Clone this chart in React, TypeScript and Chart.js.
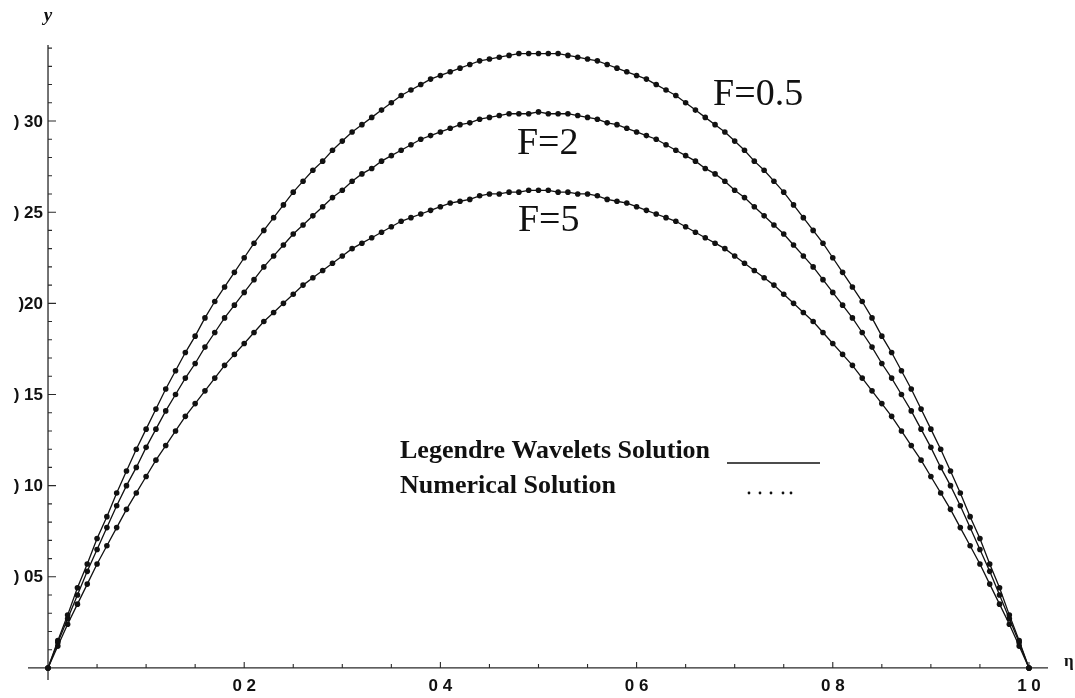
import React, { useEffect, useRef } from "react";
import { Chart, registerables } from "chart.js";

Chart.register(...registerables);

// η grid (0 … 1, step 0.01)
const ETA = [
  0, 0.01, 0.02, 0.03, 0.04, 0.05, 0.06, 0.07, 0.08, 0.09,
  0.1, 0.11, 0.12, 0.13, 0.14, 0.15, 0.16, 0.17, 0.18, 0.19,
  0.2, 0.21, 0.22, 0.23, 0.24, 0.25, 0.26, 0.27, 0.28, 0.29,
  0.3, 0.31, 0.32, 0.33, 0.34, 0.35, 0.36, 0.37, 0.38, 0.39,
  0.4, 0.41, 0.42, 0.43, 0.44, 0.45, 0.46, 0.47, 0.48, 0.49,
  0.5, 0.51, 0.52, 0.53, 0.54, 0.55, 0.56, 0.57, 0.58, 0.59,
  0.6, 0.61, 0.62, 0.63, 0.64, 0.65, 0.66, 0.67, 0.68, 0.69,
  0.7, 0.71, 0.72, 0.73, 0.74, 0.75, 0.76, 0.77, 0.78, 0.79,
  0.8, 0.81, 0.82, 0.83, 0.84, 0.85, 0.86, 0.87, 0.88, 0.89,
  0.9, 0.91, 0.92, 0.93, 0.94, 0.95, 0.96, 0.97, 0.98, 0.99,
  1.0,
];

// y(η) for F = 0.5
const Y_F05 = [
  0, 0.015, 0.029, 0.044, 0.057, 0.071, 0.083, 0.096, 0.108, 0.12, 0.131,
  0.142, 0.153, 0.163, 0.173, 0.182, 0.192, 0.201, 0.209, 0.217, 0.225,
  0.233, 0.24, 0.247, 0.254, 0.261, 0.267, 0.273, 0.278, 0.284, 0.289,
  0.294, 0.298, 0.302, 0.306, 0.31, 0.314, 0.317, 0.32, 0.323, 0.325,
  0.327, 0.329, 0.331, 0.333, 0.334, 0.335, 0.336, 0.337, 0.337, 0.337,
  0.337, 0.337, 0.336, 0.335, 0.334, 0.333, 0.331, 0.329, 0.327, 0.325,
  0.323, 0.32, 0.317, 0.314, 0.31, 0.306, 0.302, 0.298, 0.294, 0.289,
  0.284, 0.278, 0.273, 0.267, 0.261, 0.254, 0.247, 0.24, 0.233, 0.225,
  0.217, 0.209, 0.201, 0.192, 0.182, 0.173, 0.163, 0.153, 0.142, 0.131,
  0.12, 0.108, 0.096, 0.083, 0.071, 0.057, 0.044, 0.029, 0.015, 0,
];

// y(η) for F = 2
const Y_F2 = [
  0, 0.014, 0.027, 0.04, 0.053, 0.065, 0.077, 0.089, 0.1, 0.11, 0.121,
  0.131, 0.141, 0.15, 0.159, 0.167, 0.176, 0.184, 0.192, 0.199, 0.206,
  0.213, 0.22, 0.226, 0.232, 0.238, 0.243, 0.248, 0.253, 0.258, 0.262,
  0.267, 0.271, 0.274, 0.278, 0.281, 0.284, 0.287, 0.29, 0.292, 0.294,
  0.296, 0.298, 0.299, 0.301, 0.302, 0.303, 0.304, 0.304, 0.304, 0.305,
  0.304, 0.304, 0.304, 0.303, 0.302, 0.301, 0.299, 0.298, 0.296, 0.294,
  0.292, 0.29, 0.287, 0.284, 0.281, 0.278, 0.274, 0.271, 0.267, 0.262,
  0.258, 0.253, 0.248, 0.243, 0.238, 0.232, 0.226, 0.22, 0.213, 0.206,
  0.199, 0.192, 0.184, 0.176, 0.167, 0.159, 0.15, 0.141, 0.131, 0.121,
  0.11, 0.1, 0.089, 0.077, 0.065, 0.053, 0.04, 0.027, 0.014, 0,
];

// y(η) for F = 5
const Y_F5 = [
  0, 0.012, 0.024, 0.035, 0.046, 0.057, 0.067, 0.077, 0.087, 0.096, 0.105,
  0.114, 0.122, 0.13, 0.138, 0.145, 0.152, 0.159, 0.166, 0.172, 0.178,
  0.184, 0.19, 0.195, 0.2, 0.205, 0.21, 0.214, 0.218, 0.222, 0.226,
  0.23, 0.233, 0.236, 0.239, 0.242, 0.245, 0.247, 0.249, 0.251, 0.253,
  0.255, 0.256, 0.257, 0.259, 0.26, 0.26, 0.261, 0.261, 0.262, 0.262,
  0.262, 0.261, 0.261, 0.26, 0.26, 0.259, 0.257, 0.256, 0.255, 0.253,
  0.251, 0.249, 0.247, 0.245, 0.242, 0.239, 0.236, 0.233, 0.23, 0.226,
  0.222, 0.218, 0.214, 0.21, 0.205, 0.2, 0.195, 0.19, 0.184, 0.178,
  0.172, 0.166, 0.159, 0.152, 0.145, 0.138, 0.13, 0.122, 0.114, 0.105,
  0.096, 0.087, 0.077, 0.067, 0.057, 0.046, 0.035, 0.024, 0.012, 0,
];

const SERIES_LABELS = ["F=0.5", "F=2", "F=5"];

// Tick values and their printed labels
const X_TICKS = [0.2, 0.4, 0.6, 0.8, 1.0];
const X_TICK_LABELS = ["0 2", "0 4", "0 6", "0 8", "1 0"];
const Y_TICKS = [0.05, 0.1, 0.15, 0.2, 0.25, 0.3];
const Y_TICK_LABELS = [") 05", ") 10", ") 15", ")20", ") 25", ") 30"];

const LEGEND_ROWS = ["Legendre Wavelets Solution", "Numerical Solution"];

const W = 1075;
const H = 698;
const INK = "#111";

// Where each curve's name sits, in data coordinates (left / baseline)
const CURVE_LABEL_ANCHORS = [
  { x: 0.678, y: 0.309 },
  { x: 0.478, y: 0.282 },
  { x: 0.479, y: 0.2395 },
];

const mathAxes = {
  id: "mathAxes",
  beforeDatasetsDraw(chart: any) {
    const { ctx, chartArea, scales } = chart;
    const xs = scales.x;
    const ys = scales.y;
    const x0 = xs.getPixelForValue(0);
    const y0 = ys.getPixelForValue(0);
    ctx.save();
    ctx.strokeStyle = "#2a2a2a";
    ctx.lineWidth = 1.3;
    ctx.beginPath();
    ctx.moveTo(chartArea.left, y0);
    ctx.lineTo(chartArea.right, y0);
    ctx.moveTo(x0, chartArea.bottom);
    ctx.lineTo(x0, chartArea.top);
    ctx.stroke();

    // x ticks every 0.05, long ones every 0.2 (pointing into the plot)
    ctx.lineWidth = 1.1;
    ctx.beginPath();
    for (let i = 1; i <= 20; i++) {
      const px = xs.getPixelForValue(i * 0.05);
      const len = i % 4 === 0 ? 6 : 4;
      ctx.moveTo(px, y0);
      ctx.lineTo(px, y0 - len);
    }
    // y ticks every 0.01, long ones every 0.05
    for (let i = 1; i <= 34; i++) {
      const py = ys.getPixelForValue(i * 0.01);
      const len = i % 5 === 0 ? 8 : 4;
      ctx.moveTo(x0, py);
      ctx.lineTo(x0 + len, py);
    }
    ctx.stroke();

    // tick labels
    ctx.fillStyle = INK;
    ctx.font = 'bold 17px "Liberation Sans", Arial, sans-serif';
    ctx.textAlign = "center";
    ctx.textBaseline = "top";
    X_TICKS.forEach((v, i) => {
      ctx.fillText(X_TICK_LABELS[i], xs.getPixelForValue(v), y0 + 10);
    });
    ctx.textAlign = "right";
    ctx.textBaseline = "middle";
    Y_TICKS.forEach((v, i) => {
      ctx.fillText(Y_TICK_LABELS[i], x0 - 5, ys.getPixelForValue(v) + 1);
    });

    // axis names
    ctx.font = 'italic bold 19px "Liberation Serif", serif';
    ctx.textAlign = "center";
    ctx.textBaseline = "alphabetic";
    ctx.fillText("y", x0, 21);
    ctx.font = 'bold 17px "Liberation Serif", serif';
    ctx.textAlign = "left";
    ctx.fillText("η", chartArea.right + 16, y0 - 2);
    ctx.restore();
  },
  afterDraw(chart: any) {
    const { ctx, scales } = chart;
    const xs = scales.x;
    const ys = scales.y;
    ctx.save();
    ctx.fillStyle = INK;
    ctx.textBaseline = "alphabetic";
    ctx.textAlign = "left";

    // curve names
    ctx.font = '38px "Liberation Serif", "Times New Roman", serif';
    SERIES_LABELS.forEach((t, i) => {
      const a = CURVE_LABEL_ANCHORS[i];
      ctx.fillText(t, xs.getPixelForValue(a.x), ys.getPixelForValue(a.y));
    });

    // key
    const lx = 400;
    ctx.font = 'bold 26px "Liberation Serif", "Times New Roman", serif';
    ctx.fillText(LEGEND_ROWS[0], lx, 458);
    ctx.fillText(LEGEND_ROWS[1], lx, 493);
    ctx.strokeStyle = INK;
    ctx.lineWidth = 1.6;
    ctx.beginPath();
    ctx.moveTo(727, 463);
    ctx.lineTo(820, 463);
    ctx.stroke();
    [749, 760, 771, 783, 791].forEach((dx) => {
      ctx.beginPath();
      ctx.arc(dx, 493, 1.4, 0, Math.PI * 2);
      ctx.fill();
    });
    ctx.restore();
  },
};

export default function App() {
  const canvasRef = useRef<HTMLCanvasElement | null>(null);

  useEffect(() => {
    const canvas = canvasRef.current;
    if (!canvas) return;
    const mk = (vals: number[]) => ({
      data: ETA.map((x, i) => ({ x, y: vals[i] })),
      showLine: true,
      borderColor: INK,
      borderWidth: 1.3,
      pointRadius: 2.8,
      pointBackgroundColor: INK,
      pointBorderWidth: 0,
      tension: 0,
    });
    const chart = new Chart(canvas, {
      type: "scatter",
      data: {
        datasets: [mk(Y_F05), mk(Y_F2), mk(Y_F5)].map((d, i) => ({
          ...d,
          label: SERIES_LABELS[i],
        })),
      },
      options: {
        responsive: false,
        animation: false,
        devicePixelRatio: 1,
        events: [],
        layout: { padding: { left: 28, right: 27, top: 45, bottom: 18 } },
        scales: {
          x: { type: "linear", min: -0.0204, max: 1.0194, display: false },
          y: { type: "linear", min: -0.0066, max: 0.3417, display: false },
        },
        plugins: {
          legend: { display: false },
          tooltip: { enabled: false },
        },
      },
      plugins: [mathAxes],
    } as any);
    return () => chart.destroy();
  }, []);

  return (
    <div
      style={{
        position: "absolute",
        left: 0,
        top: 0,
        width: W,
        height: H,
        background: "#fff",
      }}
    >
      <canvas ref={canvasRef} width={W} height={H} style={{ display: "block" }} />
    </div>
  );
}
